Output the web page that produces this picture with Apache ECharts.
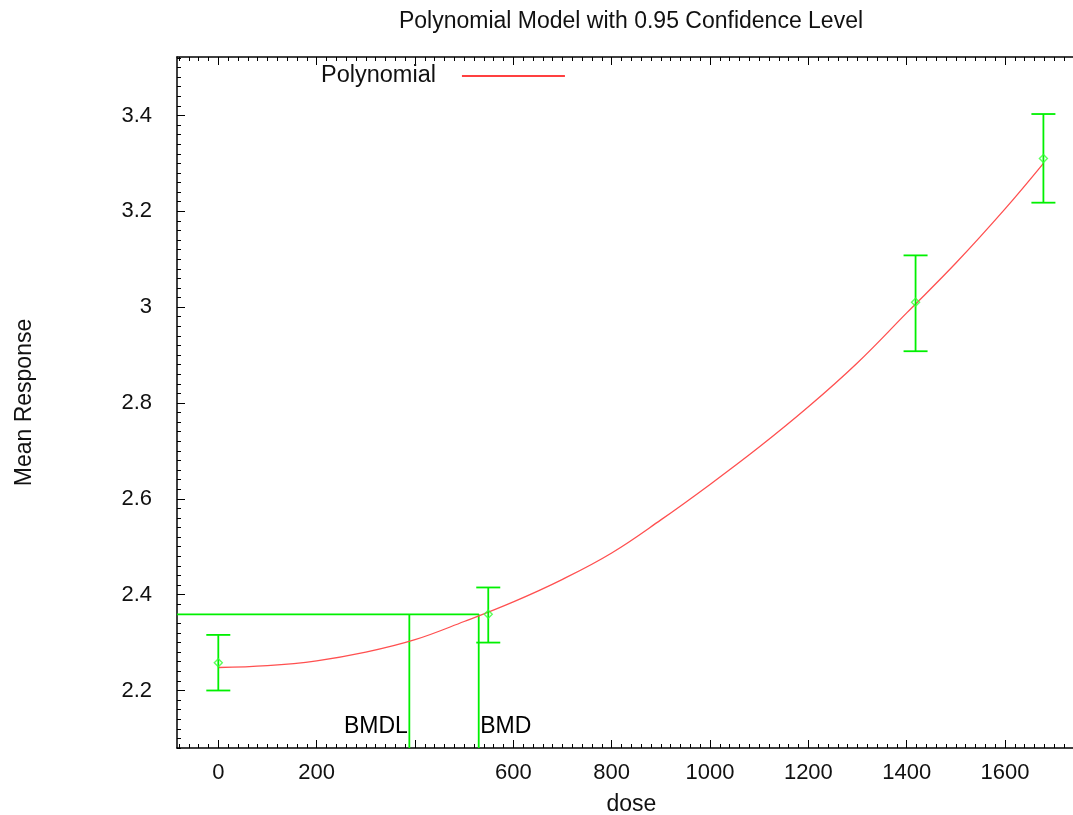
<!DOCTYPE html>
<html>
<head>
<meta charset="utf-8">
<script src="https://cdn.jsdelivr.net/npm/echarts@6/dist/echarts.min.js"></script>
<style>
  html, body { margin: 0; padding: 0; background: #fff; }
  #chart { width: 1073px; height: 815px; }
</style>
</head>
<body>
<div id="chart"></div>
<script>
// ---- data ----
const doses = [0, 549, 1418, 1678];
const means = [2.258, 2.359, 3.010, 3.310];
const lowerCI = [2.200, 2.300, 2.908, 3.218];
const upperCI = [2.316, 2.415, 3.108, 3.403];

const curveDose = [0, 100, 200, 300, 400, 500, 600, 700, 800, 900, 1000, 1100, 1200, 1300, 1400, 1500, 1600, 1678];
const curveMean = [2.248, 2.252, 2.262, 2.280, 2.306, 2.344, 2.385, 2.432, 2.487, 2.556, 2.630, 2.708, 2.792, 2.884, 2.988, 3.092, 3.205, 3.300];

const bmdValue = 529.6;
const bmdlValue = 388.5;
const bmrLevel = 2.3587;
const bmdLabelY = 2.124;

const xRange = [-84, 1764];
const yRange = [2.08, 3.522];
const xMajorTicks = [0, 200, 400, 600, 800, 1000, 1200, 1400, 1600];
const xTickLabels = [0, 200, 600, 800, 1000, 1200, 1400, 1600];
const yMajorTicks = [2.2, 2.4, 2.6, 2.8, 3.0, 3.2, 3.4];
const yTickLabels = [2.2, 2.4, 2.6, 2.8, 3.0, 3.2, 3.4];

const titleText = 'Polynomial Model with 0.95 Confidence Level';
const xName = 'dose';
const yName = 'Mean Response';
const seriesName = 'Polynomial';

// ---- minor tick positions ----
const xMinorTicks = [];
for (let v = -80; v <= 1760; v += 20) xMinorTicks.push(v);
const yMinorTicks = [];
for (let k = 0; k <= 72; k++) yMinorTicks.push(Math.round((2.08 + 0.02 * k) * 1000) / 1000);

const FONT = '"Liberation Sans", Arial, sans-serif';
const GREEN = '#00f000';
const TXT = '#111';
const AXIS = { show: true, onZero: false, lineStyle: { color: '#000', width: 1.5 } };

function xAxisDef(pos, ticks, len, showLine, labels) {
  return {
    type: 'value', position: pos, min: xRange[0], max: xRange[1],
    axisLine: showLine ? AXIS : { show: false, onZero: false },
    axisTick: { show: true, inside: true, length: len, customValues: ticks, lineStyle: { color: '#000', width: 1 } },
    axisLabel: labels ? {
      show: true, customValues: labels, color: TXT, fontFamily: FONT, fontSize: 22, margin: 14,
      formatter: v => String(Math.round(v))
    } : { show: false },
    splitLine: { show: false }
  };
}
function yAxisDef(ticks, len, showLine, labels) {
  return {
    type: 'value', position: 'left', min: yRange[0], max: yRange[1],
    axisLine: showLine ? AXIS : { show: false, onZero: false },
    axisTick: { show: true, inside: true, length: len, customValues: ticks, lineStyle: { color: '#000', width: 1 } },
    axisLabel: labels ? {
      show: true, customValues: labels, color: TXT, fontFamily: FONT, fontSize: 22, margin: 25,
      formatter: v => String(Math.round(v * 10) / 10)
    } : { show: false },
    splitLine: { show: false }
  };
}

const xAxes = [
  xAxisDef('bottom', xMajorTicks, 8, true, xTickLabels),
  xAxisDef('bottom', xMinorTicks, 4, false, null),
  xAxisDef('top', xMajorTicks, 8, true, null),
  xAxisDef('top', xMinorTicks, 4, false, null)
];
xAxes[0].name = xName;
xAxes[0].nameLocation = 'middle';
xAxes[0].nameGap = 45;
xAxes[0].nameTextStyle = { color: TXT, fontFamily: FONT, fontSize: 23 };

const yAxes = [
  yAxisDef(yMajorTicks, 8, true, yTickLabels),
  yAxisDef(yMinorTicks, 4, false, null)
];
yAxes[0].name = yName;
yAxes[0].nameLocation = 'middle';
yAxes[0].nameGap = 141;
yAxes[0].nameTextStyle = { color: TXT, fontFamily: FONT, fontSize: 23 };

const errData = doses.map((d, i) => [d, lowerCI[i], upperCI[i]]);
const meanData = doses.map((d, i) => [d, means[i]]);
const curveData = curveDose.map((d, i) => [d, curveMean[i]]);

const option = {
  animation: false,
  backgroundColor: '#fff',
  title: {
    text: titleText, left: 631, textAlign: 'center', top: 10, padding: 0,
    textStyle: { color: TXT, fontFamily: FONT, fontSize: 23, fontWeight: 'normal' }
  },
  legend: {
    data: [{ name: seriesName, icon: 'rect', itemStyle: { color: '#ff0000' } }],
    left: 321, top: 64, padding: 0, align: 'right',
    itemWidth: 103, itemHeight: 1.5,
    textStyle: { color: TXT, fontFamily: FONT, fontSize: 23.5, padding: [0, 21, 0, 0] },
    selectedMode: false
  },
  grid: { left: 177, top: 57, width: 908.7, height: 691, containLabel: false, outerBoundsMode: 'none' },
  xAxis: xAxes,
  yAxis: yAxes,
  series: [
    {
      name: seriesName, type: 'line', smooth: 0.4, symbol: 'none',
      data: curveData,
      lineStyle: { color: '#ff5050', width: 1.3 },
      itemStyle: { color: '#ff0000' },
      z: 3
    },
    {
      name: 'bmdLines', type: 'line', symbol: 'none',
      data: [[xRange[0], bmrLevel], [bmdValue, bmrLevel], [bmdValue, yRange[0]]],
      lineStyle: { color: GREEN, width: 1.8 }, z: 2
    },
    {
      name: 'bmdlLine', type: 'line', symbol: 'none',
      data: [[bmdlValue, bmrLevel], [bmdlValue, yRange[0]]],
      lineStyle: { color: GREEN, width: 1.8 }, z: 2
    },
    {
      name: 'errorBars', type: 'custom',
      data: errData,
      encode: { x: 0, y: [1, 2] },
      renderItem: function (params, api) {
        const x = api.value(0);
        const lo = api.coord([x, api.value(1)]);
        const hi = api.coord([x, api.value(2)]);
        const hw = 12;
        const st = { stroke: GREEN, lineWidth: 1.8 };
        return {
          type: 'group',
          children: [
            { type: 'line', shape: { x1: lo[0], y1: lo[1], x2: hi[0], y2: hi[1] }, style: st },
            { type: 'line', shape: { x1: lo[0] - hw, y1: lo[1], x2: lo[0] + hw, y2: lo[1] }, style: st },
            { type: 'line', shape: { x1: hi[0] - hw, y1: hi[1], x2: hi[0] + hw, y2: hi[1] }, style: st }
          ]
        };
      },
      z: 4
    },
    {
      name: 'means', type: 'scatter', symbol: 'diamond', symbolSize: 8,
      data: meanData,
      itemStyle: { color: 'rgba(255,255,255,0)', borderColor: '#33ff33', borderWidth: 1.4 },
      z: 5
    },
    {
      name: 'bmdLabels', type: 'scatter', symbol: 'circle', symbolSize: 1,
      itemStyle: { color: 'rgba(0,0,0,0)' },
      data: [
        { value: [bmdlValue, bmdLabelY], label: { show: true, formatter: 'BMDL', position: 'left', distance: 1 } },
        { value: [bmdValue, bmdLabelY], label: { show: true, formatter: 'BMD', position: 'right', distance: 1 } }
      ],
      label: { color: '#000', opacity: 1, fontFamily: FONT, fontSize: 23 },
      z: 6
    }
  ]
};

const chart = echarts.init(document.getElementById('chart'), null, { renderer: 'canvas' });
chart.setOption(option);
</script>
</body>
</html>
